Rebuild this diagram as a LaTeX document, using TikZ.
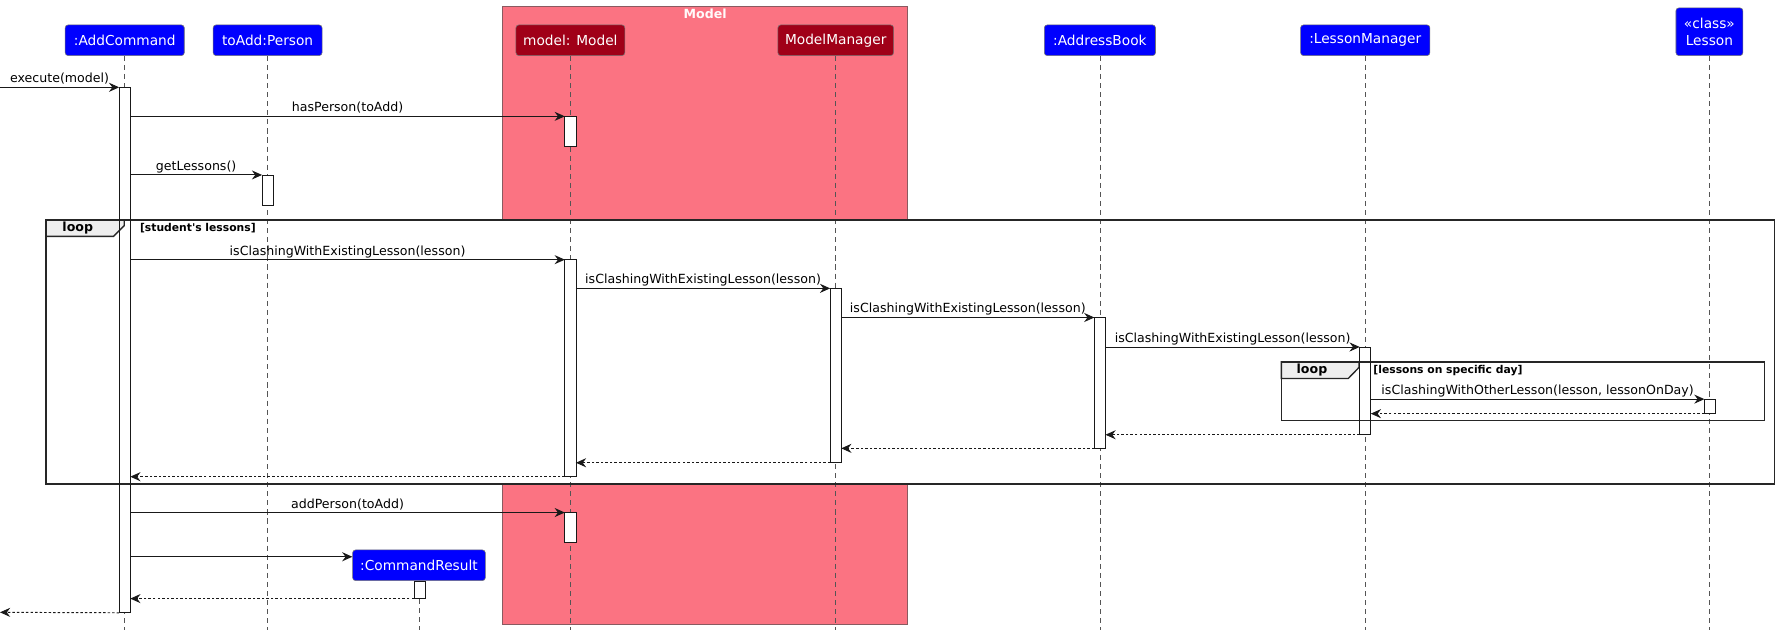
\documentclass[tikz,border=0pt]{standalone}
\usepackage{fontspec}
\setmainfont{DejaVu Sans}
\newfontfamily\plainfont{DejaVu Sans}
\usetikzlibrary{arrows.meta}
\definecolor{pblue}{HTML}{0000FF}
\definecolor{pred}{HTML}{A00018}
\definecolor{grpbg}{HTML}{FB7382}
\definecolor{grpline}{HTML}{8A5A60}
\definecolor{tabbg}{HTML}{EEEEEE}
\definecolor{lifec}{HTML}{555555}
\tikzset{
 head/.style={draw=black!55, line width=0.5pt, rounded corners=2.5pt, fill=pblue, text=white,
   font=\fontsize{12.1}{15.5}\selectfont, inner sep=0pt, align=center},
 headred/.style={head, fill=pred},
 life/.style={draw=lifec, line width=0.7pt, dash pattern=on 4.5pt off 3.5pt},
 act/.style={draw=none, fill=white, minimum width=9.4pt, inner sep=0pt, anchor=north},
 actline/.style={draw=black!90, line width=0.65pt},
 msg/.style={draw=black!90, line width=0.85pt, -{Stealth[length=9pt,width=8pt,inset=3pt]}},
 ret/.style={msg, dash pattern=on 2.2pt off 1.8pt},
 lbl/.style={font=\fontsize{11.1}{13}\selectfont, anchor=base, inner sep=0pt, yshift=4pt},
 frameline/.style={draw=black!85, line width=1.4pt},
 framefill/.style={fill=white, draw=none},
 tabst/.style={fill=tabbg, draw=black!85, line width=1.2pt},
 looplbl/.style={font=\bfseries\fontsize{11.1}{13}\selectfont, inner sep=0pt},
 guard/.style={font=\plainfont\bfseries\fontsize{9.5}{11}\selectfont, anchor=west, inner sep=0pt},
 grptitle/.style={font=\bfseries\fontsize{11.1}{13}\selectfont, text=white!92!pink, inner sep=0pt, anchor=north},
}
\begin{document}
\begin{tikzpicture}[x=1pt,y=-1pt]
\useasboundingbox (0,0) rectangle (1568,561);
% group box
\node[draw=grpline, line width=0.7pt, fill=grpbg, minimum width=357pt, minimum height=544.7pt,
      inner sep=0pt, anchor=north west] (grp) at (443,5.3) {};
\node[grptitle, yshift=-2.5pt] (grpt) at (grp.north) {Model};
% loop frame fills
\path[framefill] (40.5,194) rectangle (1565,427);
\path[framefill] (1130,319) rectangle (1556,371);
% heads
\node[head, minimum width=105pt, minimum height=27pt] (ac) at (110,35.5) {:AddCommand};
\node[head, minimum width=96pt, minimum height=27pt] (pe) at (236,35.5) {toAdd:Person};
\node[headred, minimum width=96pt, minimum height=27pt] (mo) at (503,35.5) {model: Model};
\node[headred, minimum width=102pt, minimum height=27pt] (mm) at (737,35.5) {ModelManager};
\node[head, minimum width=98pt, minimum height=27pt] (ab) at (970,35.5) {:AddressBook};
\node[head, minimum width=114pt, minimum height=27pt] (lm) at (1204,35.5) {:LessonManager};
\node[head, minimum width=59pt, minimum height=42pt] (le) at (1507.5,28) {«class»\\Lesson};
\node[head, minimum width=117pt, minimum height=27pt] (cr) at (369.5,498.5) {:CommandResult};
% lifelines
\foreach \n in {ac,pe,mo,mm,ab,lm,le,cr}{
  \draw[life] (\n.south) -- (\n.south |- 0,556);
}
% activations
\node[act, minimum height=463pt] (acA) at (110,77) {};
\node[act, minimum height=26.2pt] (moA1) at (503,102.6) {};
\node[act, minimum height=26.5pt] (peA) at (236,154.3) {};
\node[act, minimum height=191pt] (moA2) at (503,229) {};
\node[act, minimum height=153.4pt] (mmA) at (737,254.3) {};
\node[act, minimum height=115pt] (abA) at (970,280) {};
\node[act, minimum height=77pt] (lmA) at (1204,306) {};
\node[act, minimum height=12.4pt] (leA) at (1508,352) {};
\node[act, minimum height=26pt] (moA3) at (503,452) {};
\node[act, minimum height=15pt] (crA) at (370,512.5) {};
% loop frames
\draw[tabst] (40.5,194) -- (109.6,194) -- (109.6,199) -- (100,208.5) -- (40.5,208.5) -- cycle;
\draw[frameline] (40.5,194) rectangle (1565,427);
\node[looplbl] (loopa) at (68.6,201.5) {loop};
\node[guard] (guarda) at (123.3,201.5) {[student's lessons]};
\draw[tabst] (1130,319) -- (1198.5,319) -- (1198.5,324) -- (1189,333.8) -- (1130,333.8) -- cycle;
\draw[frameline] (1130,319) rectangle (1556,371);
\node[looplbl] (loopb) at (1157,326.5) {loop};
\node[guard] (guardb) at (1211,326.5) {[lessons on specific day]};
% activation outlines over frames
\foreach \n in {acA,moA1,peA,moA2,mmA,abA,lmA,leA,moA3,crA}{
  \draw[actline] (\n.north west) rectangle (\n.south east);
}
% messages
\coordinate (start) at (0,77);
\coordinate (finish) at (0,540);
\coordinate (crIn) at ([yshift=7.5pt]cr.west);
\draw[msg] (start) -- (acA.north west) node[lbl,midway] {execute(model)};
\draw[msg] (acA.east |- moA1.north) -- (moA1.north west) node[lbl,midway] {hasPerson(toAdd)};
\draw[msg] (acA.east |- peA.north) -- (peA.north west) node[lbl,midway] {getLessons()};
\draw[msg] (acA.east |- moA2.north) -- (moA2.north west) node[lbl,midway] {isClashingWithExistingLesson(lesson)};
\draw[msg] (moA2.east |- mmA.north) -- (mmA.north west) node[lbl,midway] {isClashingWithExistingLesson(lesson)};
\draw[msg] (mmA.east |- abA.north) -- (abA.north west) node[lbl,midway] {isClashingWithExistingLesson(lesson)};
\draw[msg] (abA.east |- lmA.north) -- (lmA.north west) node[lbl,midway] {isClashingWithExistingLesson(lesson)};
\draw[msg] (lmA.east |- leA.north) -- (leA.north west) node[lbl,midway] {isClashingWithOtherLesson(lesson, lessonOnDay)};
\draw[ret] (leA.south west) -- (lmA.east |- leA.south);
\draw[ret] (lmA.south west) -- (abA.east |- lmA.south);
\draw[ret] (abA.south west) -- (mmA.east |- abA.south);
\draw[ret] (mmA.south west) -- (moA2.east |- mmA.south);
\draw[ret] (moA2.south west) -- (acA.east |- moA2.south);
\draw[msg] (acA.east |- moA3.north) -- (moA3.north west) node[lbl,midway] {addPerson(toAdd)};
\draw[msg] (acA.east |- crIn) -- (crIn);
\draw[ret] (crA.south west) -- (acA.east |- crA.south);
\draw[ret] (acA.south west) -- (finish);
\end{tikzpicture}
\end{document}
